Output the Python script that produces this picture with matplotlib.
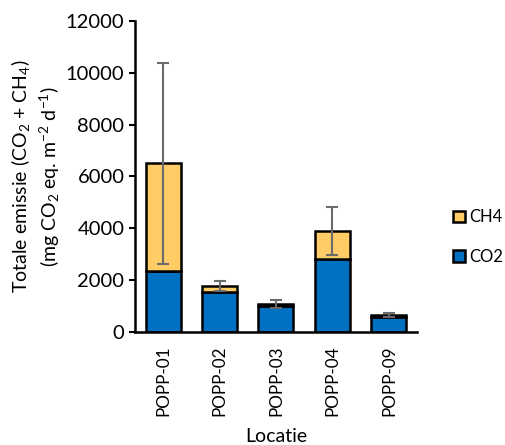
import matplotlib
matplotlib.use("Agg")
import matplotlib.pyplot as plt
import numpy as np

plt.rcParams['font.family'] = ['Lato', 'DejaVu Sans']
plt.rcParams['mathtext.fontset'] = 'custom'
plt.rcParams['mathtext.rm'] = 'Lato'
plt.rcParams['mathtext.it'] = 'Lato'

locaties = ["POPP-01", "POPP-02", "POPP-03", "POPP-04", "POPP-09"]
co2 = [2350, 1550, 1000, 2820, 590]
ch4 = [4150, 230, 65, 1080, 70]
err = [3870, 190, 155, 930, 90]

totaal = np.array(co2) + np.array(ch4)
x = np.arange(len(locaties))

fig = plt.figure(figsize=(5.05, 4.45), dpi=100)
ax = fig.add_axes([0.267, 0.254, 0.559, 0.699])

ax.bar(x, co2, width=0.62, color="#0070C0", edgecolor="black", linewidth=1.8, label="CO2", zorder=2)
ax.bar(x, ch4, width=0.62, bottom=co2, color="#FFCC66", edgecolor="black", linewidth=1.8, label="CH4", zorder=2)
ax.errorbar(x, totaal, yerr=err, fmt="none", ecolor="#6b6b6b", elinewidth=1.5, capsize=4, capthick=1.5, zorder=3)

ax.set_ylim(0, 12000)
ax.set_xlim(-0.5, len(locaties) - 0.5)
ax.set_yticks(range(0, 12001, 2000))
ax.set_xticks(x)
ax.set_xticklabels(locaties, rotation=90, fontsize=12.3)
ax.tick_params(axis="y", labelsize=14.5, direction="out", length=4, width=1.5)
ax.tick_params(axis="x", length=0, pad=10)
for s in ["top", "right"]:
    ax.spines[s].set_visible(False)
for s in ["left", "bottom"]:
    ax.spines[s].set_linewidth(1.8)

ax.set_ylabel("Totale emissie (CO$_2$ + CH$_4$)\n(mg CO$_2$ eq. m$^{-2}$ d$^{-1}$)", fontsize=14,
              labelpad=3, linespacing=1.3)
ax.set_xlabel("Locatie", fontsize=14, labelpad=8)

h, l = ax.get_legend_handles_labels()
fig.legend(h[::-1], l[::-1], loc="center left", bbox_to_anchor=(453 / 505, 1 - 237 / 445),
           bbox_transform=fig.transFigure, frameon=False, borderpad=0, borderaxespad=0,
           fontsize=12, handlelength=0.7, handleheight=0.7, handletextpad=0.3, labelspacing=1.4)

fig.savefig("out.png", dpi=100)
